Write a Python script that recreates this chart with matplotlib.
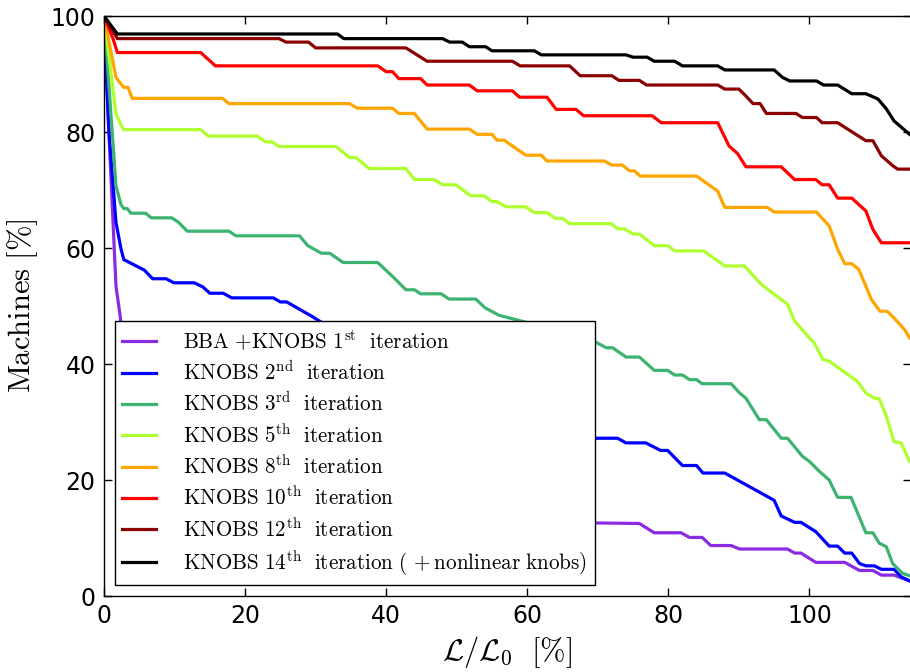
import matplotlib
matplotlib.use("Agg")
import matplotlib.pyplot as plt

plt.rcParams['mathtext.fontset'] = 'cm'
plt.rcParams['font.family'] = ['DejaVu Sans']

# ---- data ----
x_bba = [0, 0.5, 1.7, 2.3, 3, 5, 10, 20, 40, 60, 69.5, 75.9, 78, 81.8, 83, 84.8, 86, 88.9, 90.1, 96.9,
         97.9, 98.8, 100.9, 105, 107.1, 109, 110.2, 112, 114.2]
y_bba = [100, 85, 53.4, 48.2, 40, 30, 22, 18, 15, 13, 12.6, 12.5, 10.9, 10.9, 10.1, 10.1, 8.7, 8.7, 8.1, 8.1,
         7.4, 7.4, 5.8, 5.8, 4.4, 4.4, 3.6, 3.6, 2.6]

x_k2 = [0, 0.7, 1.7, 2.4, 2.8, 5.7, 6.9, 8.8, 9.9, 12.8, 14, 15, 16.9, 18.1, 24, 25, 25.9, 29.5, 35, 45, 55, 65,
        69.5, 72.8, 74, 76.8, 78.9, 79.9, 82, 84, 84.9, 88, 95, 96, 97.9, 98.8, 100.9, 102.8, 104, 105, 106,
        107.1, 108, 109.2, 110.2, 112, 113, 114.2]
y_k2 = [100, 80, 64.4, 59.9, 58, 56.2, 54.7, 54.7, 54, 54, 53.3, 52.2, 52.2, 51.4, 51.4, 50.7, 50.7, 48.2, 44, 38, 32, 28,
        27.2, 27.2, 26.4, 26.4, 25.1, 25.1, 22.5, 22.5, 21.2, 21.2, 16.5, 13.8, 12.7, 12.7, 11.1, 8.6, 8.6, 7.4, 7.4,
        5.6, 5.2, 5.2, 4.6, 4.6, 3.3, 2.6]

x_k3 = [0, 1.7, 2.4, 2.8, 3.3, 3.8, 5.9, 6.7, 9.6, 10.5, 11.8, 17.7, 18.7, 27.7, 28.9, 30.8, 32, 33.9, 38.8, 40.9,
        42.8, 44, 44.9, 47.8, 48.9, 52.7, 54, 56, 62, 67, 69.5, 71.2, 72.1, 74, 75.9, 78, 79.9, 80.9, 82, 83, 84,
        84.8, 88.9, 90.1, 91, 92.9, 93.9, 96, 96.9, 99, 100, 101.4, 102.8, 104, 105.9, 108, 109, 109.9, 110.9,
        111.8, 113.2, 114.2]
y_k3 = [100, 70.7, 67.5, 66.8, 66.8, 66, 66, 65.2, 65.2, 64.5, 62.9, 62.9, 62.1, 62.1, 60.4, 59.1, 59.1, 57.5, 57.5, 55.1,
        52.8, 52.8, 52.1, 52.1, 51.2, 51.2, 49.7, 48.4, 46.5, 45, 43.9, 42.8, 42.8, 41.2, 41.2, 38.9, 38.9, 38.1, 38.1, 37.3, 37.3,
        36.6, 36.6, 35, 34.1, 30.4, 30.4, 27.2, 27.2, 24.1, 23.2, 21.5, 20, 17, 17, 10.9, 10.9, 9.1, 8.5,
        5.6, 3.9, 3.5]

x_k5 = [0, 1.7, 2.4, 2.8, 13.7, 14.8, 21.7, 22.9, 23.8, 24.8, 32.9, 34.8, 35.7, 37.6, 42.8, 44, 46.8, 48, 49.9, 52,
        53.9, 55, 55.7, 57, 59.8, 61, 62.8, 64, 65, 66, 71.9, 72.8, 73.8, 75, 75.9, 78, 79.9, 80.9, 85, 88, 90.8,
        93.2, 96.9, 97.9, 100, 100.7, 101.9, 102.8, 106.8, 108, 109.2, 109.9, 110.9, 112, 113, 114.2]
y_k5 = [100, 83.1, 81.3, 80.4, 80.4, 79.3, 79.3, 78.3, 78.3, 77.5, 77.5, 75.6, 75.6, 73.7, 73.7, 71.8, 71.8, 70.9, 70.9, 69,
        69, 68, 68, 67.1, 67.1, 66.1, 66.1, 65.1, 65.1, 64.2, 64.2, 63.3, 63.3, 62.4, 62.4, 60.4, 60.4, 59.5, 59.5, 56.9, 56.9,
        53.7, 50.3, 47.4, 44.5, 43.6, 40.8, 40.5, 37, 35, 34.1, 34, 31, 26.6, 26.4, 23.2]

x_k8 = [0, 1.7, 2.8, 3.4, 4.0, 16.8, 17.7, 34.8, 35.9, 40.9, 41.8, 44, 45.8, 51.8, 52.9, 55, 55.7, 56.7, 59.8, 62,
        62.8, 70.9, 72, 73.5, 74.5, 75.2, 76, 84, 87, 88, 94, 95, 101, 102.8, 104, 105, 106, 107, 108.8, 110, 111,
        111.8, 113.5, 114.2]
y_k8 = [100, 89.4, 87.7, 87.7, 85.8, 85.8, 84.9, 84.9, 84.1, 84.1, 83.2, 83.2, 80.5, 80.5, 79.6, 79.6, 78.6, 78.6, 76, 76,
        75, 75, 74.3, 74.3, 73.3, 73.3, 72.4, 72.4, 69.8, 67, 67, 66.2, 66.2, 63.8, 59.8, 57.3, 57.3, 56.3, 51.1, 49.1, 49.1,
        48.2, 45.9, 44.5]

x_k10 = [0, 1.3, 1.9, 13.7, 15.8, 38.8, 40, 40.9, 41.8, 44.9, 45.8, 51.8, 52.9, 57.9, 58.9, 62.8, 64.1, 66.9, 68, 77.7,
         79, 87, 88.6, 89.8, 91, 96, 97.9, 100.9, 101.8, 102.8, 104, 106, 108, 109, 110.2, 114.2]
y_k10 = [100, 96, 93.7, 93.7, 91.4, 91.4, 90.4, 90.4, 89.2, 89.2, 88.1, 88.1, 87.1, 87.1, 86.0, 86.0, 83.9, 83.9, 82.8, 82.8,
         81.6, 81.6, 77.6, 76.3, 74, 74, 71.8, 71.8, 70.9, 70.9, 68.6, 68.6, 66.4, 63.2, 60.9, 60.9]

x_k12 = [0, 1.9, 24.8, 25.8, 29, 30, 42.8, 45.8, 57.9, 59, 66, 67.5, 72, 73, 75.9, 76.9, 87, 88, 90, 91, 92, 93, 93.9,
         98.1, 99, 101, 101.8, 104, 108, 109, 110.2, 111.8, 112.5, 114.2]
y_k12 = [100, 96.1, 96.1, 95.5, 95.5, 94.5, 94.5, 92.2, 92.2, 91.4, 91.4, 89.7, 89.7, 88.9, 88.9, 88.1, 88.1, 87.4, 87.4, 86.2,
         84.9, 84.9, 83.2, 83.2, 82.5, 82.5, 81.6, 81.6, 78.5, 78.5, 75.9, 74.2, 73.6, 73.6]

x_k14 = [0, 1.9, 33.1, 34, 48, 49, 50.8, 51.8, 54.1, 55, 61, 62, 74, 75, 77, 78, 80.9, 82, 87, 88, 95, 96.2, 97.2, 101,
         102, 104, 106, 108, 109.7, 110.9, 112, 114.2]
y_k14 = [100, 96.9, 96.9, 96.1, 96.1, 95.5, 95.5, 94.7, 94.7, 94.0, 94.0, 93.3, 93.3, 92.9, 92.9, 92.2, 92.2, 91.4, 91.4, 90.7,
         90.7, 89.4, 88.8, 88.8, 88.1, 88.1, 86.6, 86.6, 85.7, 84, 81.9, 79.6]

labels = [
    r'$\mathrm{BBA\ {+}KNOBS\ 1^{st}\ \ iteration}$',
    r'$\mathrm{KNOBS\ 2^{nd}\ \ iteration}$',
    r'$\mathrm{KNOBS\ 3^{rd}\ \ iteration}$',
    r'$\mathrm{KNOBS\ 5^{th}\ \ iteration}$',
    r'$\mathrm{KNOBS\ 8^{th}\ \ iteration}$',
    r'$\mathrm{KNOBS\ 10^{th}\ \ iteration}$',
    r'$\mathrm{KNOBS\ 12^{th}\ \ iteration}$',
    r'$\mathrm{KNOBS\ 14^{th}\ \ iteration\ (\,+nonlinear\ knobs)}$',
]
colors = ['#8A2BE2', '#0000FF', '#3CB371', '#ADFF2F', '#FFA500', '#FF0000', '#8B0000', '#000000']

series = [(x_bba, y_bba), (x_k2, y_k2), (x_k3, y_k3), (x_k5, y_k5),
          (x_k8, y_k8), (x_k10, y_k10), (x_k12, y_k12), (x_k14, y_k14)]

fig = plt.figure(figsize=(9.1, 6.72), dpi=100)
ax = fig.add_axes([104 / 910, 1 - 596 / 672, (911 - 104) / 910, 580 / 672])

for (xs, ys), c, lab in zip(series, colors, labels):
    ax.plot(xs, ys, color=c, lw=2.3, label=lab)

ax.set_xlim(0, 114.4)
ax.set_ylim(0, 100)
ax.set_xticks([0, 20, 40, 60, 80, 100])
ax.set_yticks([0, 20, 40, 60, 80, 100])
ax.tick_params(direction='in', top=True, right=True, length=6, width=1, labelsize=17, pad=6)
for s in ax.spines.values():
    s.set_linewidth(1.0)

ax.set_xlabel(r'$\mathcal{L}/\mathcal{L}_0\ \ [\%]$', fontsize=22, labelpad=4)
ax.set_ylabel(r'$\mathrm{Machines\ [\%]}$', fontsize=22, labelpad=8)

leg = ax.legend(loc='lower left', fontsize=15.2, handlelength=1.6, handletextpad=1.3,
                borderpad=0.36, labelspacing=0.37, fancybox=False,
                framealpha=1, edgecolor='black', borderaxespad=0.5)
leg.get_frame().set_linewidth(1.0)

fig.savefig('out.png', dpi=100)
